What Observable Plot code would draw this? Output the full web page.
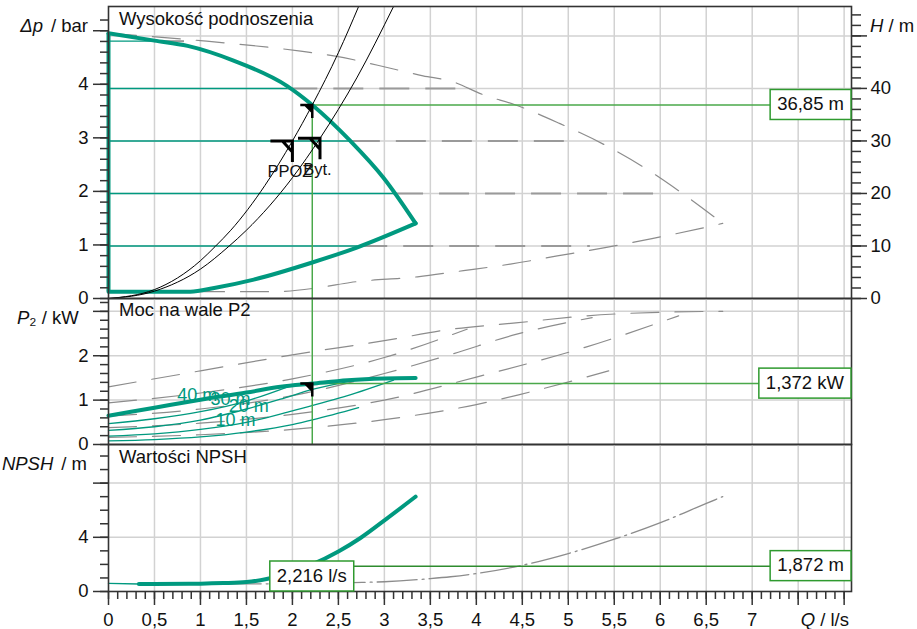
<!DOCTYPE html>
<html><head><meta charset="utf-8">
<script src="https://cdn.jsdelivr.net/npm/d3@7"></script>
<script src="https://cdn.jsdelivr.net/npm/@observablehq/plot@0.6"></script>
<style>
body{margin:0;background:#fff;}
#c{position:relative;width:917px;height:629px;overflow:hidden;background:#fff}
</style></head><body><div id="c"></div><script>
// ---------------- data ----------------
const DUTY_Q = 2.216, DUTY_H = 36.85, DUTY_P = 1.372, DUTY_NPSH = 1.872;
const BAR_M = 10.197;

// Head panel (Q l/s -> H m)
const maxQ = [0, 0.5, 0.86, 1.36, 1.94, 2.216, 2.63, 2.99, 3.34];
const maxH = [50.5, 49.1, 48.1, 45.3, 40.5, 36.85, 30.0, 23.0, 14.3];
const minQ = [0, 0.89, 1.15, 1.58, 2.216, 2.70, 3.34];
const minH = [1.3, 1.3, 2.0, 3.6, 6.86, 9.7, 14.3];
const dmaxQ = [0, 1.0, 2.09, 2.45, 3.10, 3.42, 3.72, 4.09, 4.42, 4.91, 5.38, 5.82, 6.25, 6.68];
const dmaxH = [50.5, 49.1, 47.1, 46.2, 43.7, 42.4, 41.4, 38.7, 36.9, 33.3, 29.4, 25.0, 19.9, 14.3];
const dminQ = [0, 1.78, 2.30, 2.63, 3.36, 3.86, 4.37, 4.88, 5.40, 5.91, 6.43, 6.68];
const dminH = [1.3, 1.3, 2.1, 3.05, 4.13, 5.3, 6.55, 8.1, 9.7, 11.4, 13.3, 14.3];
const hLevels = [10, 20, 30, 40, 49];
const hTealEnd = [2.71, 3.10, 2.63, 1.95, 0.5];
const hDashEnd = [5.24, 6.08, 5.0, 3.85, 1.0];
const sysAQ = [0, 0.5, 1.0, 1.16, 1.33, 1.7, 2.0, 2.216, 2.5, 2.72];
const sysAH = [0, 1.7, 7.2, 9.9, 13.0, 21.5, 30.0, 36.85, 46.8, 55.6];
const sysBQ = [0, 0.5, 1.0, 1.3, 1.5, 2.0, 2.3, 2.7, 3.1];
const sysBH = [0, 1.4, 5.6, 9.8, 13.0, 23.0, 30.5, 42.0, 55.6];
const markQ = [2.0, 2.30];
const markH = [30.0, 30.5];
const markLabel = ["PPOŻ", "Byt."];

// Power panel (Q -> P2 kW)
const p2Q = [0, 0.5, 1.0, 1.5, 1.87, 2.216, 2.6, 3.0, 3.34];
const p2P = [0.65, 0.83, 1.01, 1.17, 1.30, 1.372, 1.45, 1.49, 1.50];
const p40Q = [0, 0.5, 1.0, 1.5, 1.95];
const p40P = [0.47, 0.58, 0.74, 0.98, 1.30];
const p30Q = [0, 0.5, 1.0, 1.5, 1.87, 2.216, 2.63];
const p30P = [0.32, 0.40, 0.55, 0.80, 1.02, 1.24, 1.43];
const p20Q = [0, 0.5, 1.0, 1.5, 2.0, 2.6, 3.1];
const p20P = [0.19, 0.24, 0.34, 0.50, 0.76, 1.10, 1.45];
const p10Q = [0, 0.5, 1.0, 1.5, 2.0, 2.23, 2.72];
const p10P = [0.08, 0.11, 0.17, 0.28, 0.45, 0.56, 0.83];
const dp2Q = [0, 1.0, 2.0, 3.0, 3.74, 4.43, 5.2, 6.0, 6.68];
const dp2P = [1.30, 1.66, 2.02, 2.34, 2.60, 2.74, 2.90, 2.98, 3.00];
const dp40Q = [0, 1, 2, 3, 3.9];
const dp40P = [0.94, 1.16, 1.48, 1.96, 2.60];
const dp30Q = [0, 1, 2, 3, 3.74, 4.43, 5.26];
const dp30P = [0.64, 0.80, 1.10, 1.60, 2.04, 2.48, 2.86];
const dp20Q = [0, 1, 2, 3, 4, 5.2, 6.2];
const dp20P = [0.38, 0.48, 0.68, 1.00, 1.52, 2.20, 2.90];
const dp10Q = [0, 1, 2, 3, 4, 4.46, 5.44];
const dp10P = [0.16, 0.22, 0.34, 0.56, 0.90, 1.12, 1.66];
const curveLabel = ["40 m", "30 m", "20 m", "10 m"];
const curveLabelQ = [0.747, 1.109, 1.308, 1.163];
const curveLabelP = [0.98, 0.887, 0.729, 0.413];

// NPSH panel
const npThinQ = [0, 0.33];
const npThinV = [0.6, 0.55];
const npQ = [0.33, 0.5, 1.0, 1.25, 1.5, 1.72, 2.0, 2.216, 2.5, 2.74, 3.03, 3.34];
const npV = [0.55, 0.56, 0.58, 0.62, 0.70, 0.92, 1.45, 2.0, 2.95, 3.95, 5.4, 7.0];
const dnpQ = [0.66, 2.0, 2.66, 3.0, 3.5, 3.72, 4.51, 5.01, 5.51, 6.01, 6.62, 6.68];
const dnpV = [0.55, 0.58, 0.66, 0.72, 0.95, 1.09, 1.95, 2.82, 3.88, 5.1, 6.84, 7.0];

// ticks
const qMajor = [0,0.5,1,1.5,2,2.5,3,3.5,4,4.5,5,5.5,6,6.5,7,7.5,8];
const qLabels = ["0","0,5","1","1,5","2","2,5","3","3,5","4","4,5","5","5,5","6","6,5","7","",""];
const qGrid = [0.5,1,1.5,2,2.5,3,3.5,4,4.5,5,5.5,6,6.5,7,7.5,8];
const barMajor = [0,1,2,3,4,5];
const barLabels = ["0","1","2","3","4",""];
const hMajor = [0,10,20,30,40,50];
const hLabels = ["0","10","20","30","40",""];
const pMajor = [0,1,2,3];
const pLabels = ["0","1","2",""];
const nMajor = [0,4,8];
const nLabels = ["0","4",""];

// ---------------- styling ----------------
const FONT = '"Liberation Sans", Arial, Helvetica, sans-serif';
const W = 917, ML = 108, MR = 66;
const Q_MAX = 8.08, H_MAX = 55.6, P_MAX = 3.29, N_MAX = 10.85;
const TEAL = "#00997f", GREEN = "#4aa84a", BOXG = "#2f9a2f", GRID = "#d2d2d2", AX = "#333", DASH = "#8c8c8c";
const style = {fontFamily: FONT, fontSize: "18.5px", color: "#111", background: "transparent", overflow: "visible"};

const rows = (q, v) => q.map((d, i) => ({q: d, v: v[i]}));
const fmtQ = d => qLabels[qMajor.indexOf(d)];
const flagBig = {draw(ctx) { ctx.moveTo(-22, 0); ctx.lineTo(0, 0); ctx.lineTo(0, 21); ctx.moveTo(-10, 0); ctx.lineTo(0, 11); }};
const flagSmall = {draw(ctx) { ctx.moveTo(-12, 0); ctx.lineTo(0, 0); ctx.moveTo(0, 0); ctx.lineTo(0, 13); ctx.moveTo(-7, 0); ctx.lineTo(0, 0); ctx.lineTo(0, 7); ctx.closePath(); }};

const container = document.getElementById("c");
function place(svg, y) {
  svg.style.position = "absolute"; svg.style.left = "0px"; svg.style.top = y + "px";
  container.appendChild(svg); return svg;
}
function addBox(svg, label, cx, cy, mode) {
  const g = d3.select(svg).append("g");
  const t = g.append("text").attr("font-size", "18.5px").attr("font-family", FONT).attr("fill", "#111")
    .attr("text-anchor", "start").text(label);
  const w = t.node().getComputedTextLength() + 14, h = 30;
  let x0, y0;
  if (mode === "right") { x0 = W - MR - w; y0 = cy - h / 2; } else { x0 = cx - w / 2; y0 = cy - h; }
  g.insert("rect", "text").attr("x", x0).attr("y", y0).attr("width", w).attr("height", h)
    .attr("fill", "white").attr("stroke", BOXG).attr("stroke-width", 1.5);
  t.attr("x", x0 + 7).attr("y", y0 + h / 2).attr("dy", "0.3em");
}
function axisTitle(svg, x, y, anchor, parts) {
  const t = d3.select(svg).append("text").attr("x", x).attr("y", y).attr("text-anchor", anchor)
    .attr("fill", "#111").attr("font-size", "18.5px").attr("font-family", FONT).style("white-space", "pre");
  for (const p of parts) {
    const s = t.append("tspan").text(p.t);
    if (p.i) s.attr("font-style", "italic");
    if (p.dx) s.attr("dx", p.dx);
  }
}
const gridXMark = () => Plot.gridX(qGrid, {stroke: GRID, strokeOpacity: 1, strokeWidth: 1.5});

// ---------------- top: head ----------------
const hRows = hLevels.map((h, i) => ({h, q1: hTealEnd[i], q2: hDashEnd[i]}));
const plotH = Plot.plot({
  width: W, height: 298, marginLeft: ML, marginRight: MR, marginTop: 6, marginBottom: 0, style,
  x: {domain: [0, Q_MAX], axis: null}, y: {domain: [0, H_MAX], axis: null},
  marks: [
    gridXMark(),
    Plot.gridY([10, 20, 30, 40, 50], {stroke: GRID, strokeOpacity: 1, strokeWidth: 1.5}),
    Plot.ruleY(hRows, {y: "h", x1: "q1", x2: "q2", stroke: "#9a9a9a", strokeWidth: 2, strokeDasharray: "30,16"}),
    Plot.ruleY(hRows, {y: "h", x1: 0, x2: "q1", stroke: TEAL, strokeWidth: 1.4}),
    Plot.line(rows(dmaxQ, dmaxH), {x: "q", y: "v", stroke: DASH, strokeWidth: 1.2, strokeDasharray: "28,16", curve: "monotone-x"}),
    Plot.line(rows(dminQ, dminH), {x: "q", y: "v", stroke: DASH, strokeWidth: 1.2, strokeDasharray: "28,16", curve: "monotone-x"}),
    Plot.ruleX([DUTY_Q], {y1: 0, y2: DUTY_H, stroke: GREEN, strokeWidth: 1.5}),
    Plot.ruleY([DUTY_H], {x1: DUTY_Q, x2: Q_MAX, stroke: GREEN, strokeWidth: 1.5}),
    Plot.ruleX([0], {y1: minH[0], y2: maxH[0], stroke: TEAL, strokeWidth: 4}),
    Plot.line(rows(maxQ, maxH), {x: "q", y: "v", stroke: TEAL, strokeWidth: 4, curve: "monotone-x"}),
    Plot.line(rows(minQ, minH), {x: "q", y: "v", stroke: TEAL, strokeWidth: 4, curve: "monotone-x"}),
    Plot.line(rows(sysAQ, sysAH), {x: "q", y: "v", stroke: "#000", strokeWidth: 1, curve: "monotone-x"}),
    Plot.line(rows(sysBQ, sysBH), {x: "q", y: "v", stroke: "#000", strokeWidth: 1, curve: "monotone-x"}),
    Plot.dot(markQ.map((q, i) => ({q, h: markH[i]})), {x: "q", y: "h", symbol: flagBig, stroke: "#000", fill: "none", strokeWidth: 3}),
    Plot.dot([{q: DUTY_Q, h: DUTY_H}], {x: "q", y: "h", symbol: flagSmall, stroke: "#000", fill: "#000", strokeWidth: 2.5}),
    Plot.text(markQ.map((q, i) => ({q, h: markH[i], t: markLabel[i]})), {x: "q", y: "h", text: "t", dy: 36.5, dx: -2.5, lineAnchor: "bottom", textAnchor: "middle", fontSize: 16.5}),
    Plot.text(["Wysokość podnoszenia"], {frameAnchor: "top-left", dx: 10.5, dy: 18, lineAnchor: "bottom", textAnchor: "start"}),
    Plot.frame({stroke: AX, strokeWidth: 1.6}),
    Plot.axisY(d3.range(0, 27).map(i => i * 0.2 * BAR_M), {anchor: "left", tickSize: 8, fill: "none", stroke: AX, strokeWidth: 1.5, label: null}),
    Plot.axisY(barMajor.map(b => b * BAR_M), {anchor: "left", tickSize: 15, tickPadding: 5, tickFormat: d => barLabels[Math.round(d / BAR_M)], stroke: AX, strokeWidth: 1.5, label: null}),
    Plot.axisY(d3.range(0, 28).map(i => i * 2), {anchor: "right", tickSize: 9, fill: "none", stroke: AX, strokeWidth: 1.5, label: null}),
    Plot.axisY(hMajor, {anchor: "right", tickSize: 15, tickPadding: 4, tickFormat: d => hLabels[hMajor.indexOf(d)], stroke: AX, strokeWidth: 1.5, label: null})
  ]
});
place(plotH, 0);
addBox(plotH, "36,85 m", 0, plotH.scale("y").apply(DUTY_H), "right");
axisTitle(plotH, 88, 32, "end", [{t: "Δp", i: true}, {t: "/ bar", dx: 8}]);
axisTitle(plotH, 870, 32, "start", [{t: "H", i: true}, {t: " / m"}]);

// ---------------- middle: power ----------------
const plotP = Plot.plot({
  width: W, height: 146, marginLeft: ML, marginRight: MR, marginTop: 0, marginBottom: 0, style,
  x: {domain: [0, Q_MAX], axis: null}, y: {domain: [0, P_MAX], axis: null},
  marks: [
    gridXMark(),
    Plot.gridY([1, 2, 3], {stroke: GRID, strokeOpacity: 1, strokeWidth: 1.5}),
    ...[[dp2Q, dp2P], [dp40Q, dp40P], [dp30Q, dp30P], [dp20Q, dp20P], [dp10Q, dp10P]].map(([q, p]) =>
      Plot.line(rows(q, p), {x: "q", y: "v", stroke: DASH, strokeWidth: 1.2, strokeDasharray: "28,16", curve: "monotone-x"})),
    ...[[p40Q, p40P], [p30Q, p30P], [p20Q, p20P], [p10Q, p10P]].map(([q, p]) =>
      Plot.line(rows(q, p), {x: "q", y: "v", stroke: TEAL, strokeWidth: 1.3, curve: "monotone-x"})),
    Plot.ruleX([DUTY_Q], {stroke: GREEN, strokeWidth: 1.5}),
    Plot.ruleY([DUTY_P], {x1: DUTY_Q, x2: Q_MAX, stroke: GREEN, strokeWidth: 1.5}),
    Plot.line(rows(p2Q, p2P), {x: "q", y: "v", stroke: TEAL, strokeWidth: 4, strokeLinecap: "round", curve: "monotone-x"}),
    Plot.dot([{q: DUTY_Q, p: DUTY_P}], {x: "q", y: "p", symbol: flagSmall, stroke: "#000", fill: "#000", strokeWidth: 2.5}),
    Plot.text(curveLabel.map((t, i) => ({t, q: curveLabelQ[i], p: curveLabelP[i]})), {x: "q", y: "p", text: "t", fill: TEAL, fontSize: 18, textAnchor: "start", lineAnchor: "bottom"}),
    Plot.text(["Moc na wale P2"], {frameAnchor: "top-left", dx: 10.5, dy: 17.7, lineAnchor: "bottom", textAnchor: "start"}),
    Plot.frame({stroke: AX, strokeWidth: 1.6}),
    Plot.axisY(d3.range(0, 17).map(i => i * 0.2), {anchor: "left", tickSize: 8, fill: "none", stroke: AX, strokeWidth: 1.5, label: null}),
    Plot.axisY(pMajor, {anchor: "left", tickSize: 15, tickPadding: 5, tickFormat: d => pLabels[pMajor.indexOf(d)], stroke: AX, strokeWidth: 1.5, label: null})
  ]
});
place(plotP, 298);
addBox(plotP, "1,372 kW", 0, plotP.scale("y").apply(DUTY_P), "right");
axisTitle(plotP, 17, 26, "start", [{t: "P", i: true}, {t: "₂"}, {t: " / kW"}]);

// ---------------- bottom: NPSH ----------------
const plotN = Plot.plot({
  width: W, height: 185, marginLeft: ML, marginRight: MR, marginTop: 0, marginBottom: 38, style,
  x: {domain: [0, Q_MAX], axis: null}, y: {domain: [0, N_MAX], axis: null},
  marks: [
    gridXMark(),
    Plot.gridY([4, 8], {stroke: GRID, strokeOpacity: 1, strokeWidth: 1.5}),
    Plot.line(rows(dnpQ, dnpV), {x: "q", y: "v", stroke: DASH, strokeWidth: 1.3, strokeDasharray: "40,5,2,5", curve: "monotone-x"}),
    Plot.line(rows(npThinQ, npThinV), {x: "q", y: "v", stroke: TEAL, strokeWidth: 1.4}),
    Plot.ruleY([DUTY_NPSH], {x1: DUTY_Q, x2: Q_MAX, stroke: "#2e8b2e", strokeWidth: 1.5}),
    Plot.line(rows(npQ, npV), {x: "q", y: "v", stroke: TEAL, strokeWidth: 4, strokeLinecap: "round", curve: "monotone-x"}),
    Plot.text(["Wartości NPSH"], {frameAnchor: "top-left", dx: 10.5, dy: 18, lineAnchor: "bottom", textAnchor: "start"}),
    Plot.frame({stroke: AX, strokeWidth: 1.6}),
    Plot.axisY(d3.range(0, 11), {anchor: "left", tickSize: 8, fill: "none", stroke: AX, strokeWidth: 1.5, label: null}),
    Plot.axisY(nMajor, {anchor: "left", tickSize: 15, tickPadding: 5, tickFormat: d => nLabels[nMajor.indexOf(d)], stroke: AX, strokeWidth: 1.5, label: null}),
    Plot.axisX(d3.range(0, 81).map(i => i / 10), {anchor: "bottom", tickSize: 8, fill: "none", stroke: AX, strokeWidth: 1.5, label: null}),
    Plot.axisX(qMajor, {anchor: "bottom", tickSize: 14, tickPadding: 7, tickFormat: fmtQ, stroke: AX, strokeWidth: 1.5, label: null})
  ]
});
place(plotN, 444);
addBox(plotN, "1,872 m", 0, plotN.scale("y").apply(DUTY_NPSH), "right");
addBox(plotN, "2,216 l/s", plotN.scale("x").apply(DUTY_Q), plotN.scale("y").apply(0), "bottom");
axisTitle(plotN, 87, 26, "end", [{t: "NPSH", i: true}, {t: "/ m", dx: 8}]);
axisTitle(plotN, 849, 181.7, "end", [{t: "Q", i: true}, {t: " / l/s"}]);
</script></body></html>
